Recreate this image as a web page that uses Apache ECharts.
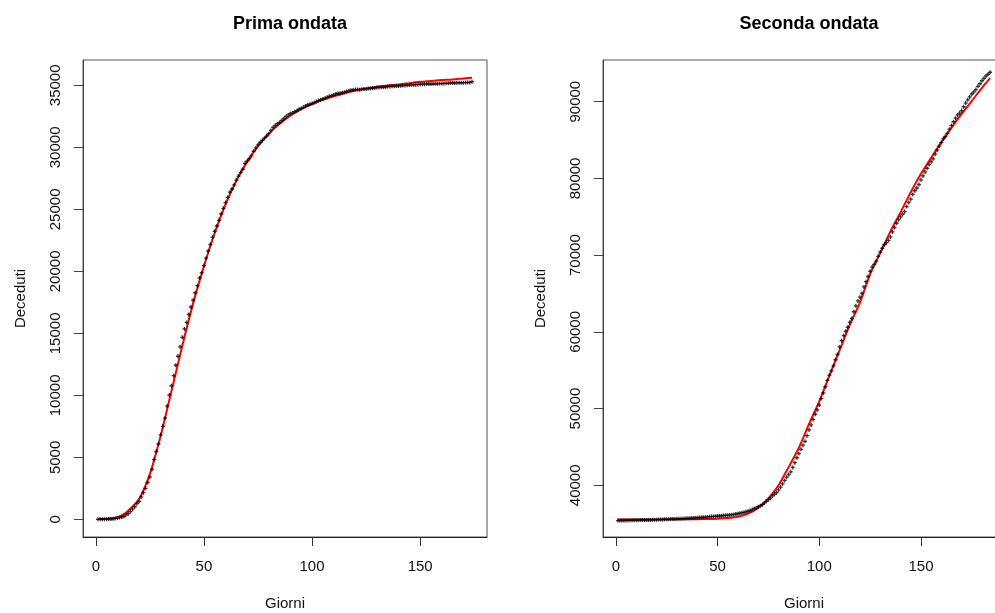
<!DOCTYPE html>
<html>
<head>
<meta charset="utf-8">
<script src="https://cdn.jsdelivr.net/npm/echarts@6/dist/echarts.min.js"></script>
<style>
  html, body { margin: 0; padding: 0; background: #fff; }
  #chart { width: 995px; height: 613px; }
</style>
</head>
<body>
<div id="chart"></div>
<script>
// Decessi cumulati giornalieri, prima ondata (giorno 1 .. 174)
const primaDeceduti = [
  7, 10, 12, 17, 21, 29,
  34, 52, 79, 107, 148, 197, 233, 366, 463, 631,
  827, 1016, 1266, 1441, 1809, 2158, 2503, 2978, 3405, 4032,
  4825, 5476, 6077, 6820, 7503, 8165, 9134, 10023, 10779, 11591, 12428,
  13155, 13915, 14681, 15362, 15887, 16523, 17127, 17669, 18279, 18849,
  19468, 19899, 20465, 21067, 21645, 22170, 22745, 23227, 23660, 24114,
  24648, 25085, 25549, 25969, 26384, 26644, 26977, 27359, 27682, 27967,
  28236, 28710, 28884, 29079, 29315, 29684, 29958, 30201, 30395, 30560,
  30739, 30911, 31106, 31368, 31610, 31763, 31908, 32007, 32169, 32330,
  32486, 32616, 32735, 32785, 32877, 32955, 33072, 33142, 33229, 33340, 33415,
  33475, 33530, 33601, 33689, 33774, 33846, 33899, 33964, 34043, 34114,
  34167, 34223, 34301, 34345, 34371, 34405, 34448, 34514, 34561, 34610,
  34634, 34657, 34675, 34644, 34678, 34708, 34716, 34738, 34744, 34767,
  34788, 34818, 34833, 34854, 34861, 34869, 34899, 34914, 34926, 34938,
  34945, 34954, 34967, 34984, 34997, 35017, 35028, 35042, 35045, 35058,
  35073, 35082, 35092, 35097, 35102, 35107, 35112, 35123, 35129, 35132, 35141,
  35146, 35154, 35166, 35171, 35181, 35187, 35190, 35203, 35205, 35209,
  35215, 35225, 35231, 35234, 35300
];

// Curva stimata, prima ondata
const primaFitGiorni = [1, 5, 10, 13, 15, 20, 25, 30, 35, 40, 45, 50, 55, 60, 65, 70, 75, 80, 85, 90,
  95, 100, 105, 110, 115, 120, 125, 130, 135, 140, 145, 150, 155, 160, 165, 170, 174];
const primaFitValori = [30, 45, 160, 420, 700, 1650, 3650, 6750, 10350, 14000, 17400, 20400, 23100, 25400,
  27300, 28850, 30100, 31100, 31900, 32560, 33080, 33500, 33840, 34120, 34370, 34580, 34750, 34890,
  34990, 35070, 35180, 35290, 35360, 35430, 35480, 35560, 35620];

// Decessi cumulati giornalieri, seconda ondata (giorno 1 .. 184)
const secondaDeceduti = [
  35396, 35400, 35405, 35412, 35418, 35427, 35430, 35437, 35441, 35445,
  35458, 35463, 35472, 35473, 35477, 35483, 35491,
  35497, 35507, 35518, 35534, 35541, 35553, 35563, 35577, 35587, 35597,
  35603, 35610, 35624, 35633, 35645, 35658, 35668, 35692, 35707, 35724,
  35738, 35758, 35781, 35801, 35818, 35835, 35851, 35875, 35894, 35918,
  35941, 35968, 35986, 36002, 36030, 36061, 36083, 36111, 36140, 36166,
  36205, 36246, 36289, 36372, 36427, 36474, 36543, 36616, 36705, 36832,
  36968, 37059, 37210, 37338, 37479, 37700, 37905, 38122, 38321, 38618, 38826,
  39059, 39412, 39764, 40192, 40638, 41063, 41394, 41750, 42330, 42953,
  43589, 44139, 44683, 45229, 45733, 46464, 47217, 47870, 48569, 49261,
  49823, 50453, 51306, 52028, 52850, 53677, 54363, 54904, 55576,
  56361, 57045, 58038, 58852, 59514, 60078, 60606, 61240, 61739, 62626,
  63387, 64036, 64520, 65011, 65857, 66537, 67220, 67894, 68447, 68799,
  69214, 69842, 70395, 70900, 71359, 71620, 71925, 72370, 73029, 73604, 74159,
  74621, 74985, 75332, 75680, 76329, 76877, 77291, 77911, 78394, 78755,
  79203, 79819, 80326, 80848, 81325, 81800, 82177, 82554, 83157, 83681,
  84202, 84674, 85162, 85461, 85881, 86422, 86889, 87381, 87858, 88279, 88516,
  88845, 89344, 89820, 90241, 90618, 91003, 91273, 91580, 92002, 92338,
  92729, 93045, 93356, 93577, 93835
];

// Curva stimata, seconda ondata
const secondaFitGiorni = [1, 10, 20, 30, 40, 45, 50, 55, 60, 65, 70, 75, 80, 85, 90, 95, 100, 105, 110,
  115, 120, 125, 130, 135, 140, 145, 150, 155, 160, 165, 170, 175, 180, 184];
const secondaFitValori = [35530, 35540, 35550, 35565, 35590, 35615, 35655, 35735, 35900, 36300, 37050,
  38300, 40000, 42400, 44900, 48000, 50950, 54300, 57600, 60900, 63800, 67500, 70300, 73100, 75600,
  78200, 80600, 82700, 84700, 86600, 88400, 90100, 91800, 93060];

// Tick positions
const xTicks = [0, 50, 100, 150];
const yTicksPrima = [0, 5000, 10000, 15000, 20000, 25000, 30000, 35000];
const yTicksSeconda = [40000, 50000, 60000, 70000, 80000, 90000];

const FONT = '"Liberation Sans", Arial, Helvetica, sans-serif';
const PLUS = 'path://M-1,-3H1V-1H3V1H1V3H-1V1H-3V-1H-1Z';

function dailyPairs(values) { return values.map((v, i) => [i + 1, v]); }
function zip(xs, ys) { return xs.map((x, i) => [x, ys[i]]); }
function plain(v) { return String(v); }

const labelText = { fontFamily: FONT, fontSize: 15, color: '#111' };

function xAxisFor(gridIndex, min, max) {
  return {
    type: 'value', gridIndex, min, max,
    name: 'Giorni', nameLocation: 'middle', nameGap: 59,
    nameTextStyle: labelText,
    axisLine: { show: true, onZero: false, lineStyle: { color: '#222', width: 1 } },
    axisTick: { show: true, length: 9, customValues: xTicks, lineStyle: { color: '#333' } },
    axisLabel: Object.assign({ customValues: xTicks, margin: 22, formatter: plain }, labelText),
    splitLine: { show: false }
  };
}

function yAxisFor(gridIndex, min, max, ticks) {
  return {
    type: 'value', gridIndex, min, max,
    name: 'Deceduti', nameLocation: 'middle', nameGap: 55, nameRotate: 90,
    nameTextStyle: labelText,
    axisLine: { show: true, onZero: false, lineStyle: { color: '#444', width: 1 } },
    axisTick: { show: true, length: 9, customValues: ticks, lineStyle: { color: '#444' } },
    axisLabel: Object.assign({ customValues: ticks, margin: 20, rotate: 90, formatter: plain }, labelText),
    splitLine: { show: false }
  };
}

function titleFor(text, x) {
  return {
    text, left: x, top: 10, textAlign: 'center',
    textStyle: { fontFamily: FONT, fontSize: 18, fontWeight: 'bold', color: '#000' }
  };
}

function gridAt(left, width) {
  return {
    left, top: 60, width, height: 477,
    outerBoundsMode: 'none', containLabel: false,
    show: true, borderColor: '#555', borderWidth: 1, backgroundColor: 'transparent'
  };
}

const chart = echarts.init(document.getElementById('chart'), null, { renderer: 'canvas' });

chart.setOption({
  animation: false,
  backgroundColor: '#fff',
  title: [titleFor('Prima ondata', 285), titleFor('Seconda ondata', 804)],
  grid: [gridAt(83, 404), gridAt(603, 402)],
  xAxis: [
    xAxisFor(0, -5.92, 180.92),
    xAxisFor(1, -6.32, 191.32)
  ],
  yAxis: [
    yAxisFor(0, -1420, 37045, yTicksPrima),
    yAxisFor(1, 33261, 95435, yTicksSeconda)
  ],
  series: [
    {
      type: 'line', xAxisIndex: 0, yAxisIndex: 0, z: 2,
      data: zip(primaFitGiorni, primaFitValori),
      showSymbol: false, smooth: 0.25,
      lineStyle: { color: '#ff0000', width: 2 }, silent: true
    },
    {
      type: 'scatter', xAxisIndex: 0, yAxisIndex: 0, z: 3,
      data: dailyPairs(primaDeceduti),
      symbol: PLUS, symbolSize: 4, itemStyle: { color: '#000' }, silent: true
    },
    {
      type: 'line', xAxisIndex: 1, yAxisIndex: 1, z: 2,
      data: zip(secondaFitGiorni, secondaFitValori),
      showSymbol: false, smooth: 0.25,
      lineStyle: { color: '#ff0000', width: 2 }, silent: true
    },
    {
      type: 'scatter', xAxisIndex: 1, yAxisIndex: 1, z: 3,
      data: dailyPairs(secondaDeceduti),
      symbol: PLUS, symbolSize: 4, itemStyle: { color: '#000' }, silent: true
    }
  ]
});
</script>
</body>
</html>
